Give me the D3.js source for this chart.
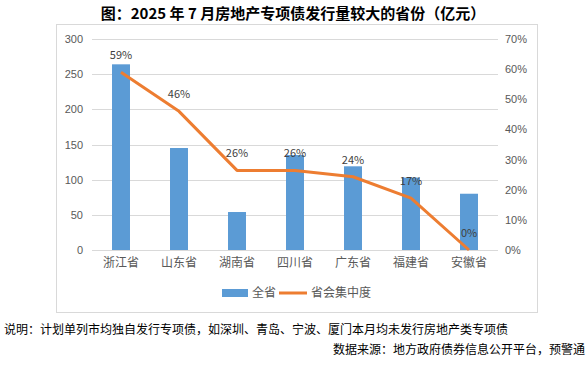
<!DOCTYPE html>
<html>
<head>
  <meta charset="UTF-8">
  <title>2025年7月房地产专项债</title>
  <style>
    body {
      margin: 0;
      background: #fff;
      font-family: 'Noto Sans CJK SC', 'Noto Sans', sans-serif;
    }
    .grid line { stroke: #d9d9d9; stroke-width: 1px; }
    .tick text { fill: #595959; font-size: 11px; }
  </style>
</head>
<body>
  <div id="container"></div>

  <script src="https://d3js.org/d3.v7.min.js"></script>
  <script>

    // data
    var provinces = ["浙江省", "山东省", "湖南省", "四川省", "广东省", "福建省", "安徽省"];
    var amounts = [264, 145, 54, 135, 119, 103, 80];
    var shares = [0.59, 0.46, 0.264, 0.264, 0.243, 0.172, 0];
    var leftTicks = [0, 50, 100, 150, 200, 250, 300];
    var rightTicks = [0, 0.1, 0.2, 0.3, 0.4, 0.5, 0.6, 0.7];

    var title = "图：2025 年 7 月房地产专项债发行量较大的省份（亿元）";
    var note = "说明：计划单列市均独自发行专项债，如深圳、青岛、宁波、厦门本月均未发行房地产类专项债";
    var source = "数据来源：地方政府债券信息公开平台，预警通";

    var W = 587, H = 372;
    var plot = {left: 92, right: 498, top: 39, bottom: 250};

    var svg = d3.select("#container").append("svg")
      .attr("width", W)
      .attr("height", H);

    // title
    svg.append("text")
      .attr("x", 293).attr("y", 19)
      .attr("text-anchor", "middle")
      .style("font-size", "15px")
      .style("font-weight", "bold")
      .style("fill", "#000")
      .text(title);

    // chart frame
    svg.append("rect")
      .attr("x", 56.5).attr("y", 24.5)
      .attr("width", 481).attr("height", 288)
      .attr("fill", "none")
      .attr("stroke", "#d9d9d9");

    // scales
    var x = d3.scaleBand()
      .domain(provinces)
      .range([plot.left, plot.right])
      .paddingInner(0.69).paddingOuter(0.345);

    var y = d3.scaleLinear().domain([0, 300]).range([plot.bottom, plot.top]);
    var y2 = d3.scaleLinear().domain([0, 0.7]).range([plot.bottom, plot.top]);

    // grid
    svg.append("g").attr("class", "grid")
      .selectAll("line")
      .data(leftTicks)
      .enter().append("line")
        .attr("x1", plot.left).attr("x2", plot.right)
        .attr("y1", function(d) { return Math.round(y(d)) + 0.5; })
        .attr("y2", function(d) { return Math.round(y(d)) + 0.5; });

    // left axis
    var axL = svg.append("g")
      .attr("transform", "translate(" + (plot.left - 9) + ",0)")
      .call(d3.axisLeft(y).tickValues(leftTicks).tickSize(0).tickPadding(0));
    axL.select(".domain").remove();

    // right axis
    var axR = svg.append("g")
      .attr("transform", "translate(" + (plot.right + 7) + ",0)")
      .call(d3.axisRight(y2).tickValues(rightTicks).tickSize(0).tickPadding(0).tickFormat(d3.format(".0%")));
    axR.select(".domain").remove();

    // bars
    svg.append("g")
      .selectAll("rect")
      .data(amounts)
      .enter().append("rect")
        .attr("x", function(d, i) { return x(provinces[i]); })
        .attr("width", x.bandwidth())
        .attr("y", function(d) { return y(d); })
        .attr("height", function(d) { return y(0) - y(d); })
        .attr("fill", "#5b9bd5");

    // category labels
    svg.append("g")
      .selectAll("text")
      .data(provinces)
      .enter().append("text")
        .attr("x", function(d) { return x(d) + x.bandwidth() / 2; })
        .attr("y", plot.bottom + 17)
        .attr("text-anchor", "middle")
        .style("font-size", "12px")
        .style("fill", "#595959")
        .text(function(d) { return d; });

    // line
    var line = d3.line()
      .x(function(d, i) { return x(provinces[i]) + x.bandwidth() / 2; })
      .y(function(d) { return y2(d); });

    svg.append("path")
      .datum(shares)
      .attr("d", line)
      .attr("fill", "none")
      .attr("stroke", "#ed7d31")
      .attr("stroke-width", 3)
      .attr("stroke-linejoin", "round");

    // line labels
    svg.append("g")
      .selectAll("text")
      .data(shares)
      .enter().append("text")
        .attr("x", function(d, i) { return x(provinces[i]) + x.bandwidth() / 2; })
        .attr("y", function(d) { return y2(d) - 13; })
        .attr("text-anchor", "middle")
        .style("font-size", "11px")
        .style("fill", "#404040")
        .text(d3.format(".0%"));

    // legend
    var lg = svg.append("g").style("font-size", "12px").style("fill", "#595959");
    lg.append("rect").attr("x", 222).attr("y", 289).attr("width", 26).attr("height", 8).attr("fill", "#5b9bd5");
    lg.append("text").attr("x", 252).attr("y", 297).text("全省");
    lg.append("line").attr("x1", 279).attr("x2", 307).attr("y1", 293).attr("y2", 293)
      .attr("stroke", "#ed7d31").attr("stroke-width", 3);
    lg.append("text").attr("x", 311).attr("y", 297).text("省会集中度");

    // note and source
    svg.append("text")
      .attr("x", 4).attr("y", 334)
      .style("font-size", "12px")
      .style("fill", "#000")
      .text(note);

    svg.append("text")
      .attr("x", 585).attr("y", 354)
      .attr("text-anchor", "end")
      .style("font-size", "12px")
      .style("fill", "#000")
      .text(source);

  </script>
</body>
</html>
